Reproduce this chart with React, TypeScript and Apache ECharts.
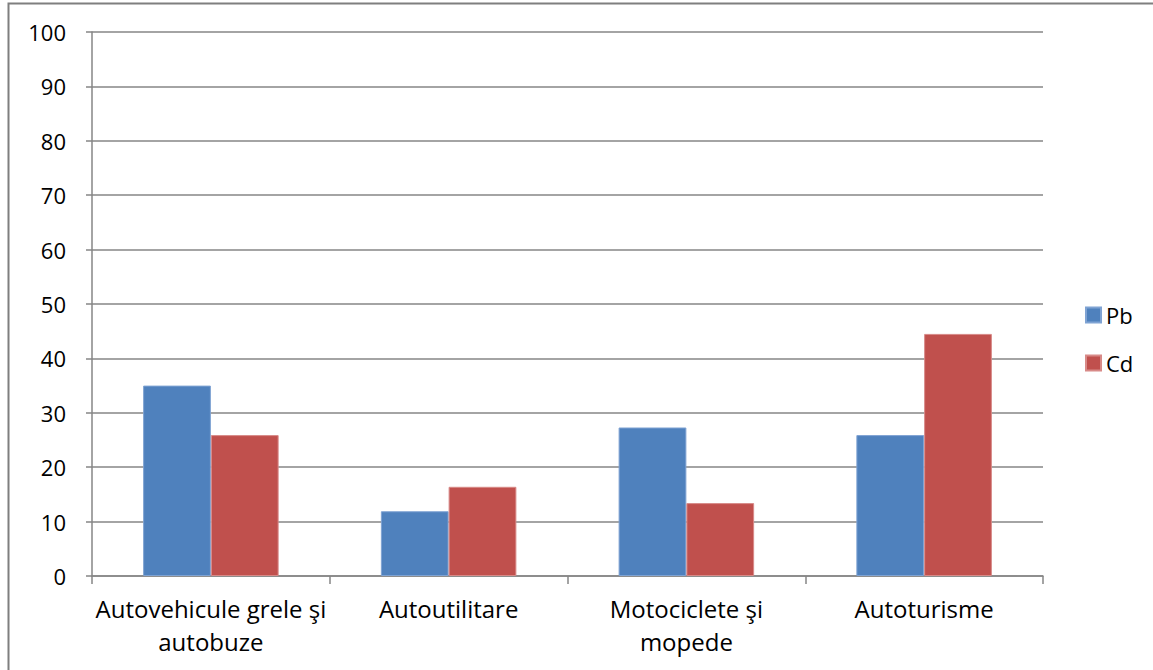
import React, { useEffect, useRef } from "react";
import * as echarts from "echarts";

const categories = [
  "Autovehicule grele şi\nautobuze",
  "Autoutilitare",
  "Motociclete şi\nmopede",
  "Autoturisme",
];
const pbValues = [35.0, 11.9, 27.3, 25.9];
const cdValues = [25.9, 16.4, 13.4, 44.5];
const seriesNames = ["Pb", "Cd"];

const FONT = "'Open Sans', 'Noto Sans', sans-serif";

export default function App() {
  const ref = useRef<HTMLDivElement>(null);
  useEffect(() => {
    if (!ref.current) return;
    const chart = echarts.init(ref.current, null, { renderer: "svg" });
    chart.setOption({
      animation: false,
      backgroundColor: "#ffffff",
      textStyle: { fontFamily: FONT },
      grid: { left: 92, right: 110, top: 32, bottom: 94, containLabel: false },
      legend: {
        orient: "vertical",
        left: 1085,
        top: 304,
        padding: 0,
        itemWidth: 15,
        itemHeight: 15,
        itemGap: 26,
        icon: "rect",
        data: seriesNames,
        textStyle: { fontSize: 22, color: "#000", fontFamily: FONT, lineHeight: 22 },
      },
      xAxis: {
        type: "category",
        data: categories,
        axisLine: { lineStyle: { color: "#868686", width: 1.5 } },
        axisTick: { show: true, length: 8, interval: 0, lineStyle: { color: "#868686", width: 1.5 } },
        axisLabel: {
          interval: 0,
          color: "#000",
          fontSize: 24,
          lineHeight: 33,
          margin: 16,
          fontFamily: FONT,
        },
      },
      yAxis: {
        type: "value",
        min: 0,
        max: 100,
        interval: 10,
        axisLine: { show: true, lineStyle: { color: "#868686", width: 1.5 } },
        axisTick: { show: true, length: 6, lineStyle: { color: "#868686", width: 1.5 } },
        splitLine: { lineStyle: { color: "#868686", width: 1.5 } },
        axisLabel: { color: "#000", fontSize: 22, margin: 26, fontFamily: FONT },
      },
      series: [
        {
          name: seriesNames[0],
          type: "bar",
          data: pbValues,
          barGap: "0%",
          barCategoryGap: "43%",
          itemStyle: { color: "#4F81BD", borderColor: "#7FA3D3", borderWidth: 1 },
        },
        {
          name: seriesNames[1],
          type: "bar",
          data: cdValues,
          barGap: "0%",
          barCategoryGap: "43%",
          itemStyle: { color: "#C0504D", borderColor: "#D88A88", borderWidth: 1 },
        },
      ],
      graphic: [
        {
          type: "rect",
          shape: { x: 8.5, y: 3.5, width: 1200, height: 700 },
          style: { fill: "none", stroke: "#7f7f7f", lineWidth: 2 },
          silent: true,
          z: 100,
        },
      ],
    });
    return () => chart.dispose();
  }, []);
  return (
    <div
      ref={ref}
      style={{ position: "fixed", left: 0, top: 0, width: 1153, height: 670 }}
    />
  );
}
